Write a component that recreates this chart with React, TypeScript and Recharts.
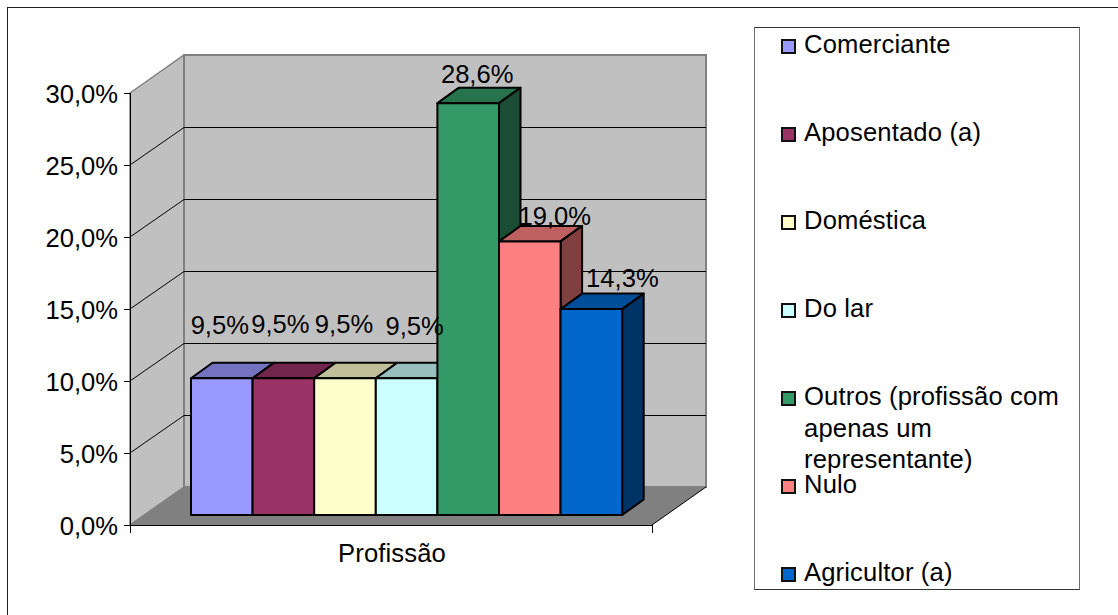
import { BarChart, Bar, XAxis, YAxis, CartesianGrid, Legend, LabelList } from 'recharts';

const categories = ['Profissão'];
const seriesNames = [
  'Comerciante',
  'Aposentado (a)',
  'Doméstica',
  'Do lar',
  'Outros (profissão com apenas um representante)',
  'Nulo',
  'Agricultor (a)',
];
const seriesValues = [9.5, 9.5, 9.5, 9.5, 28.6, 19.0, 14.3];
const seriesColors = ['#9999ff', '#993366', '#ffffcc', '#ccffff', '#339966', '#ff8080', '#0066cc'];
const yTicks = [0, 5, 10, 15, 20, 25, 30];

// hand placed data labels, the original ones are not centered on the bars
const labelShiftX = [-2, -3, -1, 8, 9, 25, 31];
const labelShiftY = [-44, -45, -45, -43, -20.5, -16, -22];

const rows = categories.map((name) => {
  const row: Record<string, string | number> = { name };
  seriesNames.forEach((_, i) => {
    row[`s${i}`] = seriesValues[i];
  });
  return row;
});

const FONT = '"Liberation Sans", Arial, sans-serif';
const FONT_SIZE = 25.6;

const PLOT = { left: 130, right: 652, top: 93, bottom: 525 };
const WALL = { dx: 54, dy: -38 };
const BAR_OFFSET = { dx: 16, dy: -10 };
const BAR_DEPTH = { dx: 21.5, dy: -15.5 };

const formatPct = (v: number) => `${v.toFixed(1).replace('.', ',')}%`;

function shade(hex: string, k: number) {
  const n = parseInt(hex.slice(1), 16);
  const c = [(n >> 16) & 255, (n >> 8) & 255, n & 255].map((v) => Math.round(v * k));
  return `rgb(${c[0]},${c[1]},${c[2]})`;
}

function Bar3D(props: any) {
  const { fill, width, height } = props;
  const x = props.x + BAR_OFFSET.dx;
  const y = props.y + BAR_OFFSET.dy;
  const { dx, dy } = BAR_DEPTH;
  const r = x + width;
  const b = y + height;
  return (
    <g stroke="#000" strokeWidth={2} strokeLinejoin="round">
      <polygon points={`${x},${y} ${x + dx},${y + dy} ${r + dx},${y + dy} ${r},${y}`} fill={shade(fill, 0.75)} />
      <polygon points={`${r},${y} ${r + dx},${y + dy} ${r + dx},${b + dy} ${r},${b}`} fill={shade(fill, 0.5)} />
      <rect x={x} y={y} width={width} height={height} fill={fill} />
    </g>
  );
}

// the room behind the bars sits in its own svg, under the chart
function Walls() {
  const { left, right, top, bottom } = PLOT;
  const { dx, dy } = WALL;
  return (
    <svg width={1118} height={615} style={{ position: 'absolute', left: 0, top: 0 }}>
      <polygon
        points={`${left},${top} ${left + dx},${top + dy} ${left + dx},${bottom + dy} ${left},${bottom}`}
        fill="#c0c0c0"
        stroke="#808080"
        strokeWidth={1.5}
      />
      <rect
        x={left + dx}
        y={top + dy}
        width={right - left}
        height={bottom - top}
        fill="#c0c0c0"
        stroke="#808080"
        strokeWidth={2}
      />
      <polygon
        points={`${left},${bottom} ${left + dx},${bottom + dy} ${right + dx},${bottom + dy} ${right},${bottom}`}
        fill="#808080"
      />
      <line x1={right} y1={bottom} x2={right + dx} y2={bottom + dy} stroke="#000" strokeWidth={1} />
    </svg>
  );
}

function GridLine(props: any) {
  const { x1, x2, y1 } = props;
  if (y1 <= PLOT.top + 1 || y1 >= PLOT.bottom - 1) return <g key={props.key} />;
  const { dx, dy } = WALL;
  return (
    <path
      key={props.key}
      d={`M${x1},${y1} L${x1 + dx},${y1 + dy + 0.5} L${x2 + dx},${y1 + dy + 0.5}`}
      fill="none"
      stroke="#000"
      strokeWidth={1}
    />
  );
}

function CategoryTick(props: any) {
  const { x, y, payload } = props;
  const half = (PLOT.right - PLOT.left) / 2;
  return (
    <g>
      <line x1={x - half} y1={y - 8} x2={x - half} y2={y} stroke="#000" shapeRendering="crispEdges" />
      <line x1={x + half} y1={y - 8} x2={x + half} y2={y} stroke="#000" shapeRendering="crispEdges" />
      <text x={x + 1} y={y + 29} textAnchor="middle" fontFamily={FONT} fontSize={FONT_SIZE} letterSpacing={0.12} fill="#000">
        {payload.value}
      </text>
    </g>
  );
}

function LegendBox(props: any) {
  const items = props.payload || [];
  return (
    <div style={{ position: 'absolute', left: 0, top: 0, width: 326, height: 0, fontFamily: FONT, fontSize: FONT_SIZE, letterSpacing: 0.15, lineHeight: '31.5px', color: '#000', textAlign: 'left' }}>
      <div
        style={{
          position: 'absolute',
          left: 0,
          top: 0,
          width: 326,
          height: 563,
          boxSizing: 'border-box',
          background: '#fff',
          borderTop: '1px solid #333',
          borderBottom: '1px solid #333',
          borderLeft: '1px solid #707070',
          borderRight: '1px solid #707070',
        }}
      />
      {items.map((it: any, i: number) => (
        <div key={it.value} style={{ position: 'absolute', left: 0, top: 2 + i * 88, width: 326 }}>
          <span
            style={{
              position: 'absolute',
              left: 27,
              top: 10,
              width: 15,
              height: 15,
              boxSizing: 'border-box',
              background: it.color,
              border: '2px solid #111',
            }}
          />
          <div style={{ marginLeft: 50, width: 268 }}>{it.value}</div>
        </div>
      ))}
    </div>
  );
}

export default function App() {
  return (
    <div style={{ position: 'absolute', left: 0, top: 0, width: 1118, height: 615, overflow: 'hidden', background: '#fff' }}>
      <div
        style={{
          position: 'absolute',
          left: 7,
          top: 7,
          width: 1111,
          height: 608,
          borderLeft: '1.5px solid #222',
          borderTop: '1.5px solid #222',
        }}
      />
      <Walls />
      <BarChart
        width={1118}
        height={615}
        data={rows}
        margin={{ left: PLOT.left - 70, right: 1118 - PLOT.right, top: PLOT.top, bottom: 615 - PLOT.bottom - 50 }}
        barSize={61.6}
        barGap={0}
      >
        <CartesianGrid horizontal={GridLine} vertical={false} />
        <XAxis
          dataKey="name"
          height={50}
          axisLine={{ stroke: '#000', shapeRendering: 'crispEdges' }}
          tickLine={false}
          tick={CategoryTick}
          interval={0}
        />
        <YAxis
          width={70}
          domain={[0, 30]}
          ticks={yTicks}
          tickFormatter={formatPct}
          tickSize={6}
          tickMargin={6}
          axisLine={{ stroke: '#000', shapeRendering: 'crispEdges' }}
          tickLine={{ stroke: '#000', shapeRendering: 'crispEdges' }}
          tick={{ fill: '#000', fontFamily: FONT, fontSize: FONT_SIZE, dy: 1 }}
          interval={0}
        />
        <Legend
          layout="horizontal"
          verticalAlign="bottom"
          itemSorter={null}
          wrapperStyle={{ position: 'absolute', left: 754, top: 27, bottom: 'auto', width: 326, height: 0 }}
          content={LegendBox}
        />
        {seriesNames.map((name, i) => (
          <Bar
            key={name}
            dataKey={`s${i}`}
            name={name}
            fill={seriesColors[i]}
            shape={Bar3D}
            isAnimationActive={false}
          >
            <LabelList
              dataKey={`s${i}`}
              content={(p: any) => (
                <text
                  x={p.x + p.width / 2 + BAR_OFFSET.dx + labelShiftX[i]}
                  y={p.y + BAR_OFFSET.dy + labelShiftY[i]}
                  textAnchor="middle"
                  fontFamily={FONT}
                  fontSize={FONT_SIZE}
                  fill="#000"
                >
                  {formatPct(Number(p.value))}
                </text>
              )}
            />
          </Bar>
        ))}
      </BarChart>
    </div>
  );
}
